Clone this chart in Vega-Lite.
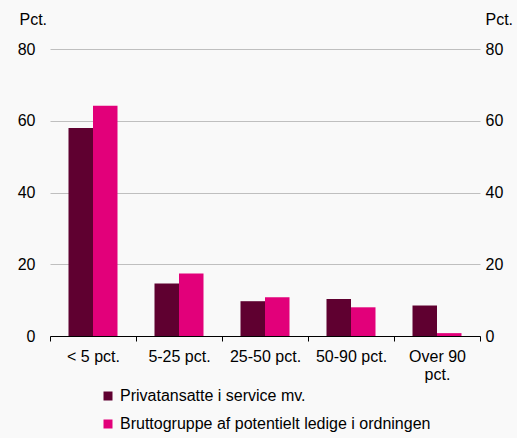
{
  "$schema": "https://vega.github.io/schema/vega-lite/v6.json",
  "width": 430,
  "height": 287,
  "autosize": "none",
  "padding": {"left": 50, "top": 49, "right": 37, "bottom": 102},
  "background": "#f9f9f9",
  "config": {
    "view": {"stroke": null},
    "font": "Liberation Sans",
    "axis": {"labelFont": "Liberation Sans", "titleFont": "Liberation Sans", "labelColor": "#000", "titleColor": "#000"}
  },
  "data": {
    "values": [
      {"kategori": "< 5 pct.", "serie": "Privatansatte i service mv.", "pct": 58.0},
      {"kategori": "< 5 pct.", "serie": "Bruttogruppe af potentielt ledige i ordningen", "pct": 64.2},
      {"kategori": "5-25 pct.", "serie": "Privatansatte i service mv.", "pct": 14.6},
      {"kategori": "5-25 pct.", "serie": "Bruttogruppe af potentielt ledige i ordningen", "pct": 17.4},
      {"kategori": "25-50 pct.", "serie": "Privatansatte i service mv.", "pct": 9.7},
      {"kategori": "25-50 pct.", "serie": "Bruttogruppe af potentielt ledige i ordningen", "pct": 10.8},
      {"kategori": "50-90 pct.", "serie": "Privatansatte i service mv.", "pct": 10.3},
      {"kategori": "50-90 pct.", "serie": "Bruttogruppe af potentielt ledige i ordningen", "pct": 8.0},
      {"kategori": "Over 90 pct.", "serie": "Privatansatte i service mv.", "pct": 8.5},
      {"kategori": "Over 90 pct.", "serie": "Bruttogruppe af potentielt ledige i ordningen", "pct": 0.8}
    ]
  },
  "layer": [
    {
      "mark": {"type": "bar"},
      "encoding": {
        "x": {
          "field": "kategori", "type": "nominal", "sort": null,
          "scale": {"paddingInner": 0, "paddingOuter": 0},
          "axis": {
            "title": null, "labelAngle": 0, "tickBand": "extent",
            "domainColor": "#000", "tickColor": "#000", "tickSize": 5,
            "labelFontSize": 16, "labelPadding": 7, "labelLimit": 120,
            "labelExpr": "datum.value == 'Over 90 pct.' ? ['Over 90', 'pct.'] : datum.value",
            "labelLineHeight": 18
          }
        },
        "xOffset": {
          "field": "serie", "type": "nominal",
          "sort": ["Privatansatte i service mv.", "Bruttogruppe af potentielt ledige i ordningen"],
          "scale": {"paddingInner": 0, "paddingOuter": 0.755}
        },
        "y": {
          "field": "pct", "type": "quantitative",
          "scale": {"domain": [0, 80]},
          "axis": {
            "values": [0, 20, 40, 60, 80], "domain": false, "ticks": false,
            "gridColor": "#bfbfbf", "gridWidth": 1,
            "labelFontSize": 16, "labelPadding": 15,
            "title": "Pct.", "titleAngle": 0, "titleAlign": "left", "titleBaseline": "alphabetic",
            "titleX": -31, "titleY": -25, "titleFontSize": 16, "titleFontWeight": "normal"
          }
        },
        "color": {
          "field": "serie", "type": "nominal",
          "sort": ["Privatansatte i service mv.", "Bruttogruppe af potentielt ledige i ordningen"],
          "scale": {"range": ["#5f0030", "#e2007a"]},
          "legend": {
            "title": null, "orient": "none", "legendX": 50, "legendY": 339,
            "direction": "vertical", "symbolType": "square", "symbolSize": 81,
            "symbolStrokeWidth": 0, "labelFontSize": 16, "labelFont": "Liberation Sans",
            "labelColor": "#000",
            "rowPadding": 12, "labelOffset": 4, "labelLimit": 400
          }
        }
      }
    },
    {
      "mark": {"type": "rule", "opacity": 0},
      "encoding": {
        "y": {
          "datum": 0, "type": "quantitative",
          "scale": {"domain": [0, 80]},
          "axis": {
            "orient": "right", "values": [0, 20, 40, 60, 80], "domain": false, "ticks": false, "grid": false,
            "labelFontSize": 16, "labelPadding": 5,
            "title": "Pct.", "titleAngle": 0, "titleAlign": "left", "titleBaseline": "alphabetic",
            "titleX": 5, "titleY": -25, "titleFontSize": 16, "titleFontWeight": "normal"
          }
        }
      }
    }
  ],
  "resolve": {"scale": {"y": "independent"}}
}
